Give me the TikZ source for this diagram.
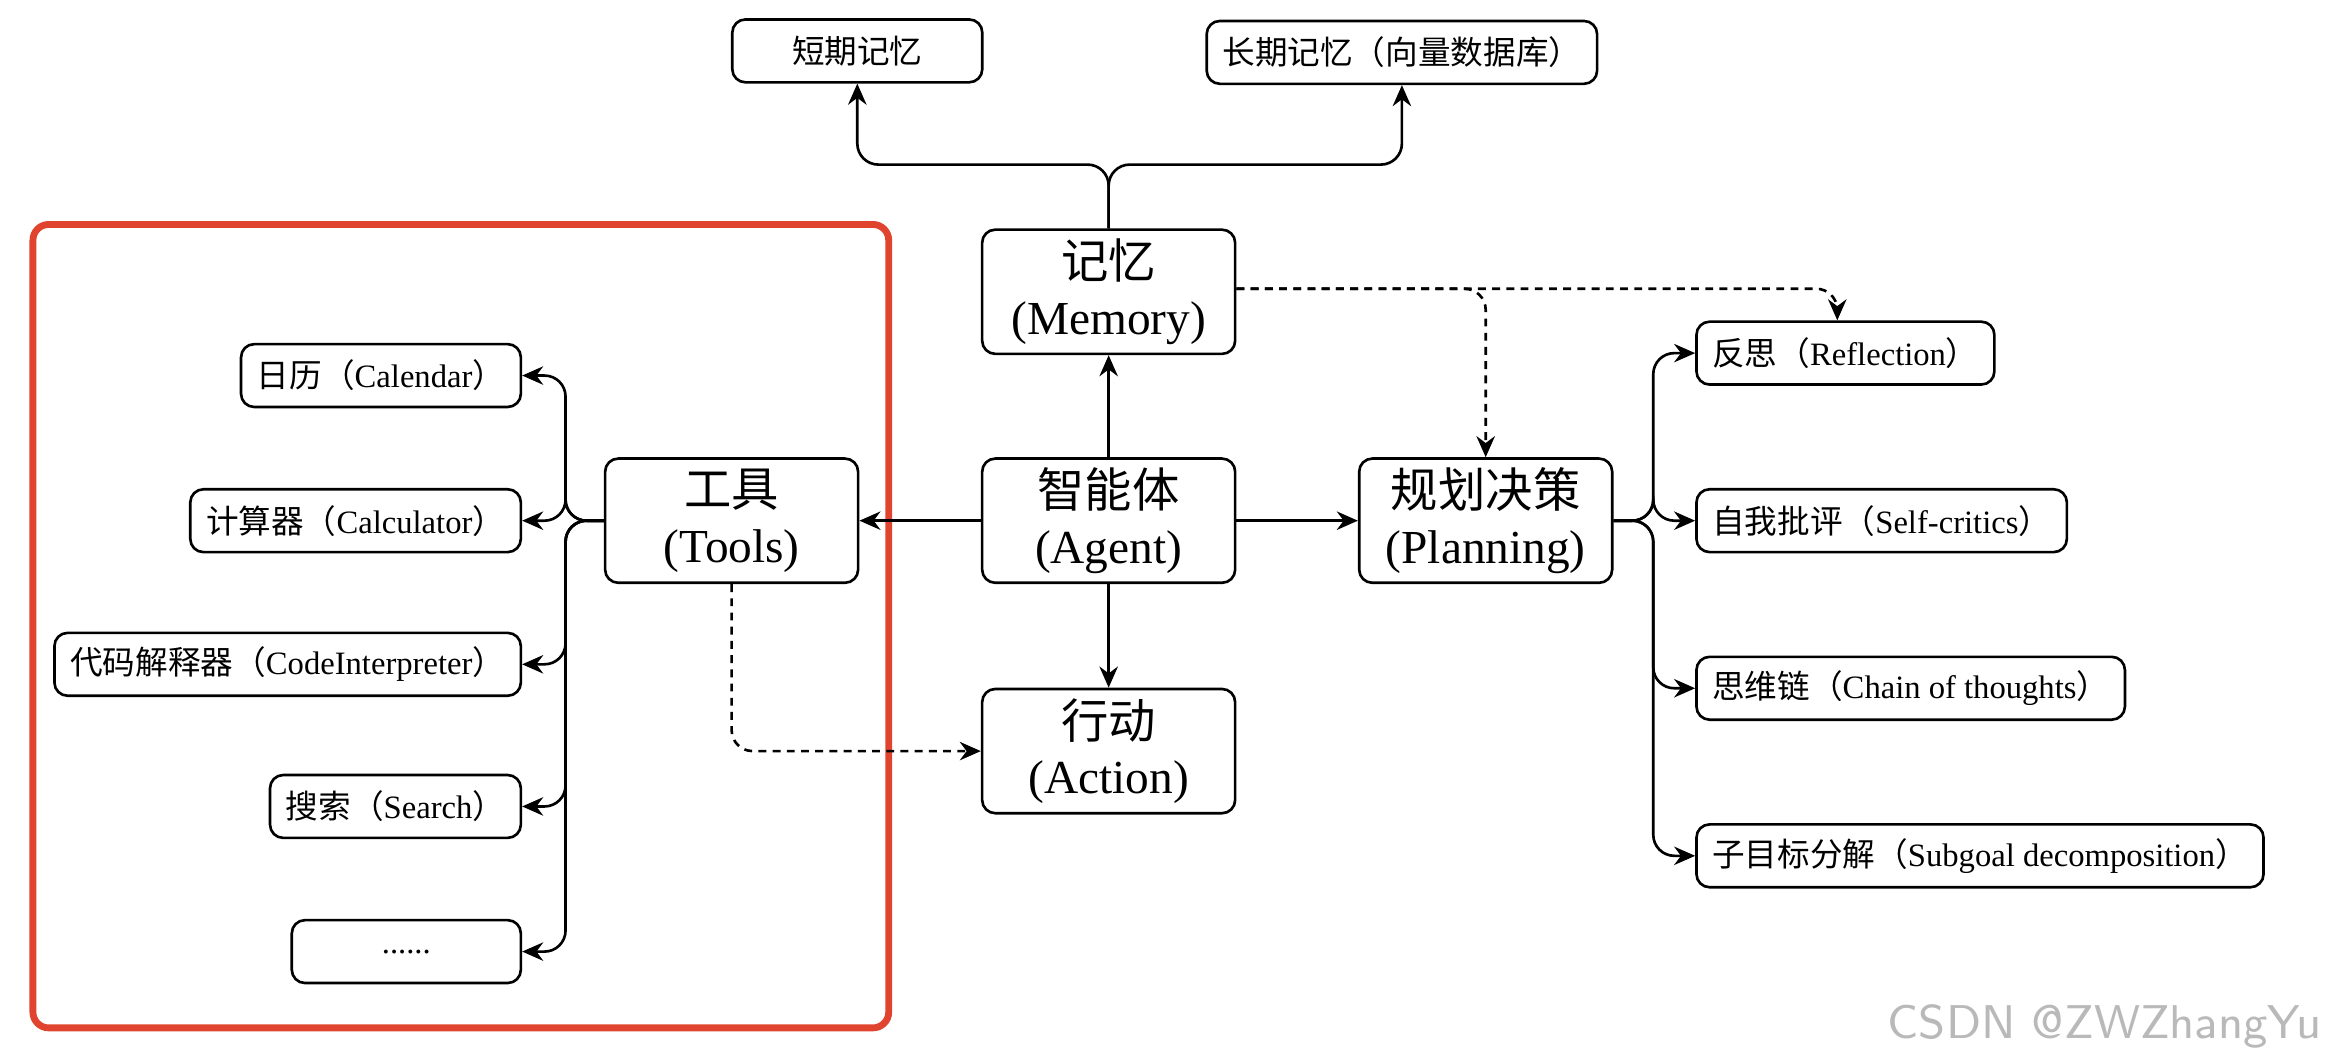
\documentclass[tikz,border=0pt]{standalone}
\usepackage{fontspec}
\setmainfont{Liberation Serif}
\newfontfamily\cjk{Noto Sans CJK SC}
\usetikzlibrary{arrows.meta,positioning}
\definecolor{frame}{HTML}{E0442E}
\tikzset{
	box/.style={draw, rounded corners=2.5pt, line width=0.5pt, inner sep=0pt, align=center},
	big/.style={box, minimum width=1.69cm, minimum height=0.83cm, font=\fontsize{9}{10.5}\selectfont},
	small/.style={box, minimum height=0.42cm, inner xsep=3pt, font=\fontsize{6.2}{7.5}\selectfont},
	link/.style={-{Stealth[length=4pt,width=3.5pt]}, line width=0.5pt},
	dlink/.style={link, dash pattern=on 1.5pt off 1.2pt}
}
\begin{document}
\begin{tikzpicture}[x=0.01cm,y=-0.01cm]
	\useasboundingbox (0,0) rectangle (1568,711);
	\draw[frame, line width=1.3pt, rounded corners=3pt] (22,150) rectangle (594,687);
	% main boxes
	\node[big] (mem) at (741,195) {{\cjk 记忆}\\(Memory)};
	\node[big] (agent) at (741,348) {{\cjk 智能体}\\(Agent)};
	\node[big] (act) at (741,502) {{\cjk 行动}\\(Action)};
	\node[big] (tools) at (489,348) {{\cjk 工具}\\(Tools)};
	\node[big] (plan) at (993,348) {{\cjk 规划决策}\\(Planning)};
	% memory
	\node[small, minimum width=1.67cm] (short) at (573,34) {\cjk 短期记忆};
	\node[small, minimum width=2.38cm] (long) at (937,35) {{\cjk 长期记忆（向量数据库）}};
	% tools
	\node[small, minimum width=1.83cm, anchor=east] (cal) at (349,251) {{\cjk 日历（}Calendar{\cjk ）}};
	\node[small, minimum width=2.09cm, anchor=east] (calc) at (349,348) {{\cjk 计算器（}Calculator{\cjk ）}};
	\node[small, minimum width=3.07cm, anchor=east] (code) at (349,444) {{\cjk 代码解释器（}CodeInterpreter{\cjk ）}};
	\node[small, minimum width=1.53cm, anchor=east] (search) at (349,539) {{\cjk 搜索（}Search{\cjk ）}};
	\node[small, minimum width=1.53cm, anchor=east] (more) at (349,636) {......};
	% planning
	\node[small, minimum width=1.96cm, anchor=west] (refl) at (1133,236) {{\cjk 反思（}Reflection{\cjk ）}};
	\node[small, minimum width=2.37cm, anchor=west] (crit) at (1133,348) {{\cjk 自我批评（}Self-critics{\cjk ）}};
	\node[small, minimum width=2.79cm, anchor=west] (cot) at (1133,460) {{\cjk 思维链（}Chain of thoughts{\cjk ）}};
	\node[small, minimum width=3.76cm, anchor=west] (sub) at (1133,572) {{\cjk 子目标分解（}Subgoal decomposition{\cjk ）}};
	% connectors
	\draw[link] (agent) -- (mem);
	\draw[link] (agent) -- (act);
	\draw[link] (agent) -- (tools);
	\draw[link] (agent) -- (plan);
	\draw[link, rounded corners=4pt] (mem.north) -- (741,110) -| (short.south);
	\draw[link, rounded corners=4pt] (mem.north) -- (741,110) -| (long.south);
	\foreach \n in {cal,calc,code,search,more}
		\draw[link, rounded corners=4pt] (tools.west) -- (378,348) |- (\n.east);
	\foreach \n in {refl,crit,cot,sub}
		\draw[link, rounded corners=4pt] (plan.east) -- (1105,348) |- (\n.west);
	\draw[dlink, rounded corners=4pt] (mem.east |- 0,193) -| (refl.north -| 1228,0);
	\draw[dlink, rounded corners=4pt] (mem.east |- 0,193) -| (plan.north);
	\draw[dlink, rounded corners=4pt] (tools.south) |- (act.west);
	\node[text=gray!55, font=\fontsize{9}{11}\selectfont\sffamily, anchor=east] (mark) at (1564,686) {CSDN @ZWZhangYu};
\end{tikzpicture}
\end{document}
